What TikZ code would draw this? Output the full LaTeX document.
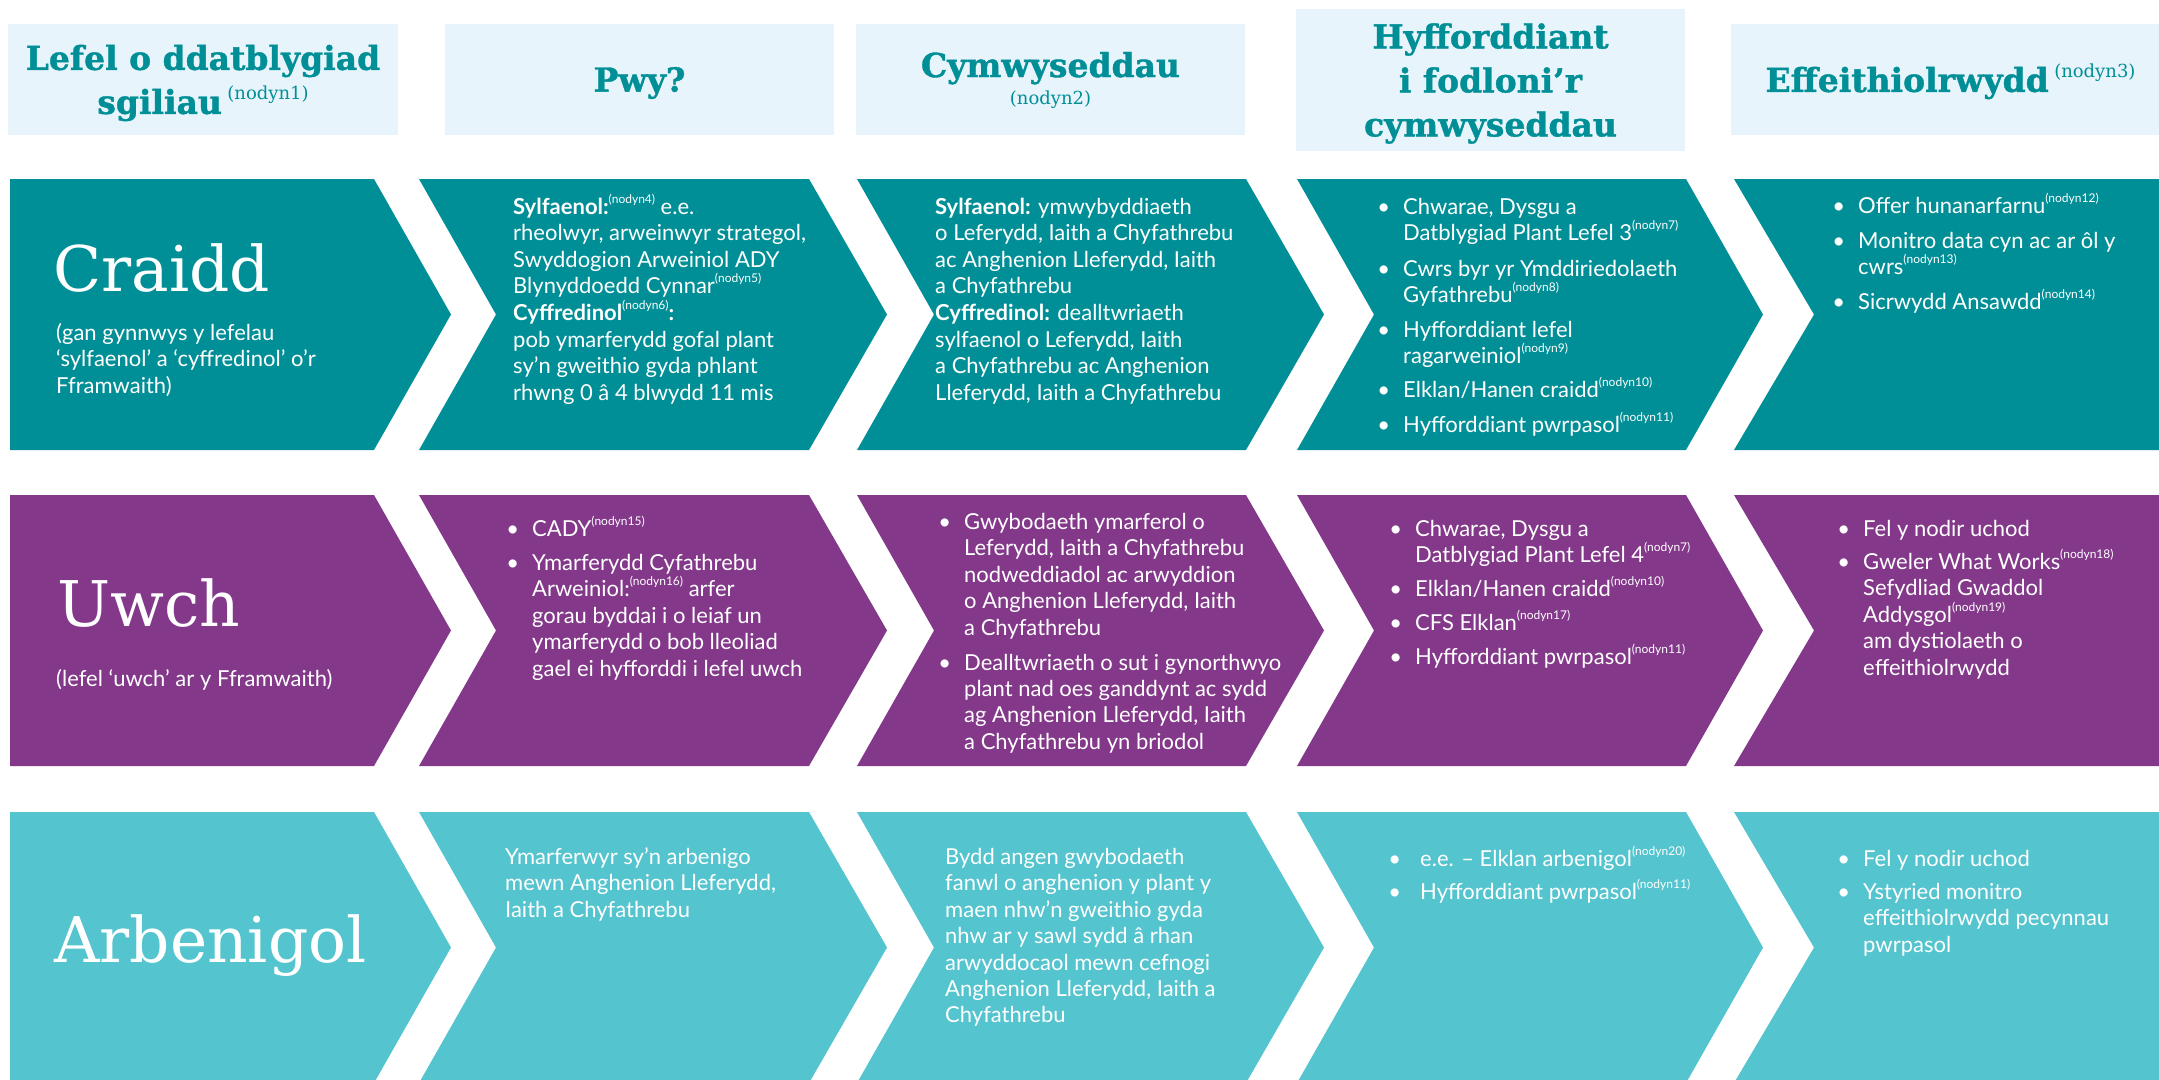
\documentclass[tikz,border=0pt]{standalone}
\usepackage{fontspec}
\setmainfont{Lato}
\newfontfamily\slabfont{DejaVu Serif}
\newfontfamily\headfont[BoldFeatures={FakeBold=1.2}]{DejaVu Serif}
\definecolor{tealA}{RGB}{0,143,150}
\definecolor{purpB}{RGB}{131,56,138}
\definecolor{tealC}{RGB}{84,196,206}
\definecolor{hbg}{RGB}{232,244,251}
\newcommand\nd[1]{\raisebox{0.5em}[0pt][0pt]{\fontsize{12}{12}\selectfont(nodyn#1)}}
\newcommand\hnd[1]{\raisebox{0.45em}[0pt][0pt]{\mdseries\fontsize{18}{18}\selectfont(nodyn#1)}}
\newcommand\bul[1][13pt]{\llap{\textbullet\hspace{#1}}}
\newcommand\tl[1]{\begin{tabular}[t]{@{}l@{}}#1\end{tabular}}
\newcommand\chevrow[4]{%
  \fill[#1] (10,#2) -- (374,#2) -- (451,#3) -- (374,#4) -- (10,#4) -- cycle;
  \fill[#1] (419,#2) -- (809,#2) -- (887,#3) -- (809,#4) -- (419,#4) -- (496,#3) -- cycle;
  \fill[#1] (857,#2) -- (1246,#2) -- (1324,#3) -- (1246,#4) -- (857,#4) -- (934,#3) -- cycle;
  \fill[#1] (1297,#2) -- (1686,#2) -- (1763,#3) -- (1686,#4) -- (1297,#4) -- (1374,#3) -- cycle;
  \fill[#1] (1734,#2) -- (2170,#2) -- (2170,#4) -- (1734,#4) -- (1814,#3) -- cycle;}
\begin{document}
\begin{tikzpicture}[x=1pt,y=-1pt,
  hbox/.style={fill=hbg, inner sep=0pt},
  htext/.style={inner sep=0pt, align=center, text=tealA, yshift=-3.5pt,
    font=\headfont\bfseries\fontsize{33}{44}\selectfont},
  lab/.style={anchor=base west, inner sep=0pt, text=white,
    font=\slabfont\fontsize{63}{63}\selectfont},
  body/.style={anchor=base west, inner sep=0pt, text=white,
    font=\fontsize{22}{26.6}\selectfont},
  blist/.style={body, font=\fontsize{22}{26.4}\selectfont}]
\useasboundingbox (0,0) rectangle (2159,1079);
\clip (0,0) rectangle (2159,1079);
\fill[white] (0,0) rectangle (2159,1079);
% header boxes
\node[hbox, minimum width=390, minimum height=111] (h1) at (203,79.5) {};
\node[hbox, minimum width=389, minimum height=111] (h2) at (639.5,79.5) {};
\node[hbox, minimum width=389, minimum height=111] (h3) at (1050.5,79.5) {};
\node[hbox, minimum width=389, minimum height=142] (h4) at (1490.5,80) {};
\node[hbox, minimum width=439, minimum height=111] (h5) at (1950.5,79.5) {};
% header texts
\node[htext] (t1) at (h1.center) {Lefel o ddatblygiad\\sgiliau\,\hnd{1}};
\node[htext] (t2) at (h2.center) {Pwy?};
\node[htext, yshift=3pt] (t3) at (h3.center) {Cymwyseddau\\[-17pt]{\mdseries\fontsize{18}{18}\selectfont(nodyn2)}};
\node[htext] (t4) at (h4.center) {Hyfforddiant\\i fodloni’r\\cymwyseddau};
\node[htext] (t5) at (h5.center) {Effeithiolrwydd\,\hnd{3}};
% rows
\chevrow{tealA}{179}{314.5}{450}
\chevrow{purpB}{495}{630.5}{766}
\chevrow{tealC}{812}{947.5}{1083}
% row 1
\node[lab] (l1) at (53,291) {Craidd};
\node[body] (s1) at (56,340) {\tl{(gan gynnwys y lefelau\\‘sylfaenol’ a ‘cyffredinol’ o’r\\Fframwaith)}};
\node[body] (r1c2) at (513,214) {\tl{\textbf{Sylfaenol:}\nd{4} e.e.\\
rheolwyr, arweinwyr strategol,\\
Swyddogion Arweiniol ADY\\
Blynyddoedd Cynnar\nd{5}\\
\textbf{Cyffredinol}\nd{6}\textbf{:}\\
pob ymarferydd gofal plant\\
sy’n gweithio gyda phlant\\
rhwng 0 â 4 blwydd 11 mis}};
\node[body] (r1c3) at (935,214) {\tl{\textbf{Sylfaenol:} ymwybyddiaeth\\
o Leferydd, Iaith a Chyfathrebu\\
ac Anghenion Lleferydd, Iaith\\
a Chyfathrebu\\
\textbf{Cyffredinol:} dealltwriaeth\\
sylfaenol o Leferydd, Iaith\\
a Chyfathrebu ac Anghenion\\
Lleferydd, Iaith a Chyfathrebu}};
\node[blist] (r1c4) at (1403,214.5) {\tl{\bul Chwarae, Dysgu a\\Datblygiad Plant Lefel 3\nd{7}\\[9pt]
\bul Cwrs byr yr Ymddiriedolaeth\\Gyfathrebu\nd{8}\\[8pt]
\bul Hyfforddiant lefel\\ragarweiniol\nd{9}\\[8pt]
\bul Elklan/Hanen craidd\nd{10}\\[8.5pt]
\bul Hyfforddiant pwrpasol\nd{11}}};
\node[blist] (r1c5) at (1858,213.5) {\tl{\bul Offer hunanarfarnu\nd{12}\\[8.5pt]
\bul Monitro data cyn ac ar ôl y\\cwrs\nd{13}\\[8pt]
\bul Sicrwydd Ansawdd\nd{14}}};
% row 2
\node[lab] (l2) at (57,626) {Uwch};
\node[body] (s2) at (56,686) {(lefel ‘uwch’ ar y Fframwaith)};
\node[blist] (r2c2) at (532,536.5) {\tl{\bul CADY\nd{15}\\[7.5pt]
\bul Ymarferydd Cyfathrebu\\Arweiniol:\nd{16} arfer\\gorau byddai i o leiaf un\\ymarferydd o bob lleoliad\\gael ei hyfforddi i lefel uwch}};
\node[blist] (r2c3) at (964,529.5) {\tl{\bul Gwybodaeth ymarferol o\\Leferydd, Iaith a Chyfathrebu\\nodweddiadol ac arwyddion\\o Anghenion Lleferydd, Iaith\\a Chyfathrebu\\[8.5pt]
\bul Dealltwriaeth o sut i gynorthwyo\\plant nad oes ganddynt ac sydd\\ag Anghenion Lleferydd, Iaith\\a Chyfathrebu yn briodol}};
\node[blist] (r2c4) at (1415,536.5) {\tl{\bul Chwarae, Dysgu a\\Datblygiad Plant Lefel 4\nd{7}\\[7.5pt]
\bul Elklan/Hanen craidd\nd{10}\\[7.5pt]
\bul CFS Elklan\nd{17}\\[7.5pt]
\bul Hyfforddiant pwrpasol\nd{11}}};
\node[blist] (r2c5) at (1863,536.5) {\tl{\bul Fel y nodir uchod\\[6.5pt]
\bul Gweler What Works\nd{18}\\Sefydliad Gwaddol\\Addysgol\nd{19}\\am dystiolaeth o\\effeithiolrwydd}};
% row 3
\node[lab] (l3) at (54,962) {Arbenigol};
\node[blist] (r3c2) at (505,864.5) {\tl{Ymarferwyr sy’n arbenigo\\mewn Anghenion Lleferydd,\\Iaith a Chyfathrebu}};
\node[blist] (r3c3) at (945,864.5) {\tl{Bydd angen gwybodaeth\\fanwl o anghenion y plant y\\maen nhw’n gweithio gyda\\nhw ar y sawl sydd â rhan\\arwyddocaol mewn cefnogi\\Anghenion Lleferydd, Iaith a\\Chyfathrebu}};
\node[blist] (r3c4) at (1420,866.5) {\tl{\bul[19pt]e.e. – Elklan arbenigol\nd{20}\\[6.5pt]
\bul[19pt]Hyfforddiant pwrpasol\nd{11}}};
\node[blist] (r3c5) at (1863,866.5) {\tl{\bul Fel y nodir uchod\\[6.5pt]
\bul Ystyried monitro\\effeithiolrwydd pecynnau\\pwrpasol}};
\end{tikzpicture}
\end{document}
